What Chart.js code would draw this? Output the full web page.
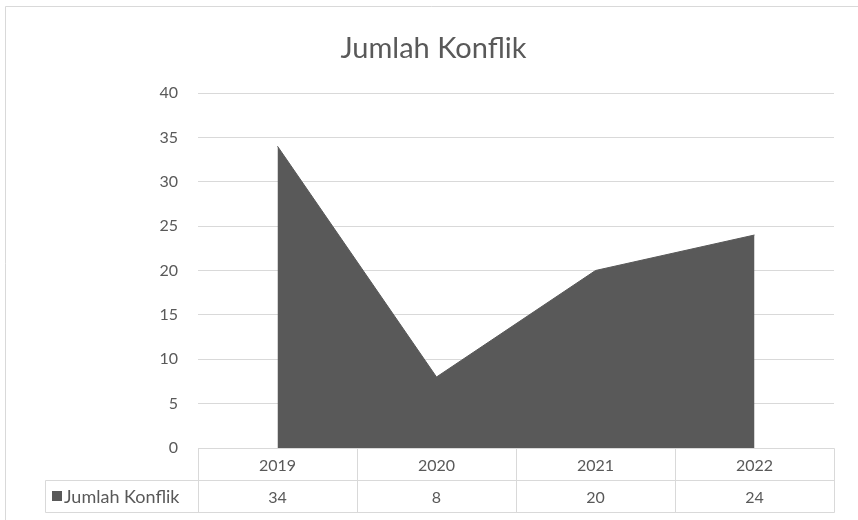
<!DOCTYPE html>
<html>
<head>
<meta charset="utf-8">
<script src="https://cdn.jsdelivr.net/npm/chart.js@4/dist/chart.umd.min.js"></script>
<style>
  html, body { margin: 0; padding: 0; background: #ffffff; }
  #wrap { width: 858px; height: 520px; position: relative; }
</style>
</head>
<body>
<div id="wrap"><canvas id="chart" width="858" height="520"></canvas></div>
<script>
// Data
const chartTitle = 'Jumlah Konflik';
const seriesName = 'Jumlah Konflik';
const categories = ['2019', '2020', '2021', '2022'];
const conflictCounts = [34, 8, 20, 24];
const yMin = 0;
const yMax = 40;
const yStep = 5;

const FONT = 'Lato, "Open Sans", sans-serif';
const TEXT = '#595959';
const LINE = '#d9d9d9';
const FILL = '#595959';

// Frame + title + data table under the plot
const decorations = {
  id: 'decorations',
  beforeDraw(chart) {
    const ctx = chart.ctx;
    ctx.save();
    ctx.fillStyle = '#ffffff';
    ctx.fillRect(0, 0, chart.width, chart.height);
    ctx.strokeStyle = LINE;
    ctx.lineWidth = 1;
    ctx.beginPath();
    ctx.moveTo(5.5, chart.height);
    ctx.lineTo(5.5, 6.5);
    ctx.lineTo(chart.width, 6.5);
    ctx.stroke();

    ctx.fillStyle = TEXT;
    ctx.font = '29px ' + FONT;
    ctx.textAlign = 'center';
    ctx.textBaseline = 'alphabetic';
    ctx.fillText(chartTitle, 433.5, 58);
    ctx.restore();
  },
  afterDraw(chart) {
    const ctx = chart.ctx;
    const area = chart.chartArea;
    const xs = chart.scales.x;
    const n = categories.length;
    const left = Math.round(area.left) + 0.5;
    const right = Math.round(area.right) + 0.5;
    const row1Top = Math.round(area.bottom) + 0.5;
    const row2Top = row1Top + 32;
    const row2Bottom = row2Top + 32;
    const legendLeft = 45.5;

    const bounds = [left];
    for (let i = 0; i < n - 1; i++) {
      bounds.push(Math.round((xs.getPixelForValue(i) + xs.getPixelForValue(i + 1)) / 2) + 0.5);
    }
    bounds.push(right);

    ctx.save();
    ctx.strokeStyle = LINE;
    ctx.lineWidth = 1;
    ctx.beginPath();
    ctx.moveTo(left, row1Top); ctx.lineTo(right, row1Top);
    ctx.moveTo(legendLeft, row2Top); ctx.lineTo(right, row2Top);
    ctx.moveTo(legendLeft, row2Bottom); ctx.lineTo(right, row2Bottom);
    ctx.moveTo(legendLeft, row2Top); ctx.lineTo(legendLeft, row2Bottom);
    bounds.forEach(b => { ctx.moveTo(b, row1Top); ctx.lineTo(b, row2Bottom); });
    ctx.stroke();

    ctx.fillStyle = TEXT;
    ctx.font = '16px ' + FONT;
    ctx.textAlign = 'center';
    ctx.textBaseline = 'middle';
    for (let i = 0; i < n; i++) {
      const cx = xs.getPixelForValue(i);
      ctx.fillText(categories[i], cx, (row1Top + row2Top) / 2 + 1);
      ctx.fillText(String(conflictCounts[i]), cx, (row2Top + row2Bottom) / 2 + 1);
    }

    // legend key + series name
    ctx.fillStyle = FILL;
    ctx.fillRect(52, 491, 10, 10);
    ctx.fillStyle = TEXT;
    ctx.font = '18px ' + FONT;
    ctx.textAlign = 'left';
    ctx.fillText(seriesName, 64, (row2Top + row2Bottom) / 2 + 1);
    ctx.restore();
  }
};

new Chart(document.getElementById('chart'), {
  type: 'line',
  data: {
    labels: categories,
    datasets: [{
      label: seriesName,
      data: conflictCounts,
      fill: 'origin',
      backgroundColor: FILL,
      borderColor: FILL,
      borderWidth: 1,
      pointRadius: 0,
      pointHoverRadius: 0,
      tension: 0
    }]
  },
  options: {
    responsive: false,
    animation: false,
    devicePixelRatio: 1,
    layout: { padding: { left: 0, right: 24, top: 93, bottom: 0 } },
    plugins: {
      legend: { display: false },
      title: { display: false },
      tooltip: { enabled: false }
    },
    scales: {
      x: {
        type: 'category',
        offset: true,
        grid: { display: false, drawTicks: false },
        border: { display: false },
        ticks: { display: false },
        afterFit(scale) { scale.height = 72; }
      },
      y: {
        min: yMin,
        max: yMax,
        grid: { color: LINE, lineWidth: 1, drawTicks: false },
        border: { display: false },
        ticks: {
          stepSize: yStep,
          padding: 20,
          color: TEXT,
          font: { family: FONT, size: 16 }
        },
        afterFit(scale) { scale.width = 198; }
      }
    }
  },
  plugins: [decorations]
});
</script>
</body>
</html>
